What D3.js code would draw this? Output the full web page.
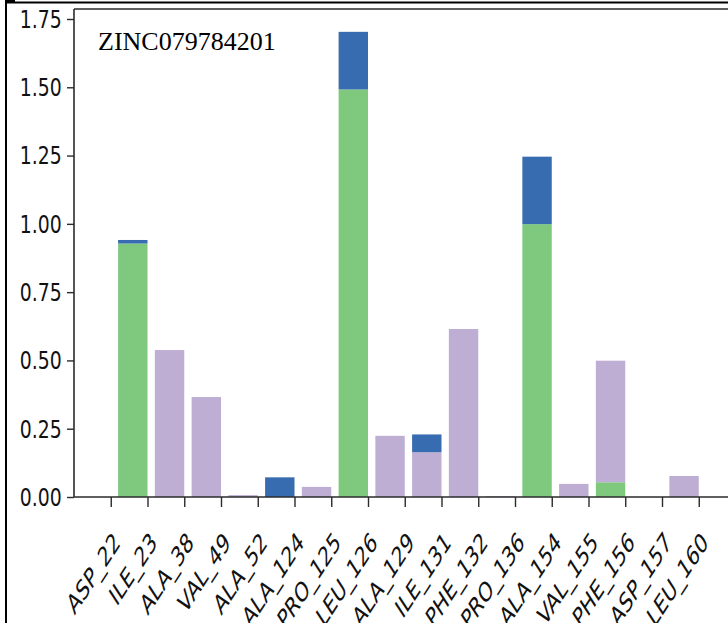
<!DOCTYPE html>
<html>
<head>
<meta charset="utf-8">
<script src="https://cdn.jsdelivr.net/npm/d3@7"></script>
<style>
  html, body { margin: 0; padding: 0; background: #fff; }
  svg { display: block; }
</style>
</head>
<body>
<svg id="chart" width="728" height="623"></svg>
<script>
// Residue labels along the x axis
const categories = ["ASP_22", "ILE_23", "ALA_38", "VAL_49", "ALA_52", "ALA_124", "PRO_125",
  "LEU_126", "ALA_129", "ILE_131", "PHE_132", "PRO_136", "ALA_154", "VAL_155",
  "PHE_156", "ASP_157", "LEU_160"];

// Stacked contributions per residue (bottom to top: green, purple, blue)
const seriesGreen  = [0, 0.928, 0, 0, 0, 0, 0, 1.492, 0, 0, 0, 0, 0.999, 0, 0.054, 0, 0];
const seriesPurple = [0, 0, 0.538, 0.366, 0.007, 0, 0.037, 0, 0.224, 0.164, 0.615, 0.003, 0, 0.048, 0.445, 0, 0.077];
const seriesBlue   = [0, 0.013, 0, 0, 0, 0.072, 0, 0.211, 0, 0.065, 0, 0, 0.247, 0, 0, 0, 0];

const yTicks = [0, 0.25, 0.5, 0.75, 1.0, 1.25, 1.5, 1.75];
const titleText = "ZINC079784201";

const seriesKeys = ["green", "purple", "blue"];
const seriesColors = { green: "#7fc97f", purple: "#beaed4", blue: "#386cb0" };

const rows = categories.map((c, i) => ({
  idx: i, name: c,
  green: seriesGreen[i], purple: seriesPurple[i], blue: seriesBlue[i]
}));

const svg = d3.select("#chart");

const plotLeft = 74, plotTop = 9, plotBottom = 497;

const x = d3.scaleLinear().domain([-1, 17]).range([plotLeft, 735.5]);
const y = d3.scaleLinear().domain([0, 1.75]).range([plotBottom, 19]);

// outer page rules
svg.append("rect").attr("x", 5).attr("y", 1.5).attr("width", 723).attr("height", 2).attr("fill", "#000");
svg.append("rect").attr("x", 5).attr("y", 0).attr("width", 10).attr("height", 2).attr("fill", "#000");
svg.append("rect").attr("x", 5).attr("y", 1.5).attr("width", 2).attr("height", 622).attr("fill", "#000");

// stacked bars
const stacked = d3.stack().keys(seriesKeys)(rows);
const barW = 0.8;

svg.append("g")
  .selectAll("g")
  .data(stacked)
  .join("g")
    .attr("fill", d => seriesColors[d.key])
  .selectAll("rect")
  .data(d => d.filter(s => s[1] - s[0] > 0))
  .join("rect")
    .attr("x", s => x(s.data.idx - barW))
    .attr("width", s => x(s.data.idx) - x(s.data.idx - barW))
    .attr("y", s => y(s[1]))
    .attr("height", s => y(s[0]) - y(s[1]));

// frame
const spine = svg.append("g").attr("stroke", "#2b2b2b").attr("stroke-width", 1.6).attr("fill", "none");
spine.append("line").attr("x1", plotLeft).attr("x2", plotLeft).attr("y1", plotTop).attr("y2", plotBottom);
spine.append("line").attr("x1", plotLeft).attr("x2", 728).attr("y1", plotTop).attr("y2", plotTop);
spine.append("line").attr("x1", plotLeft).attr("x2", 728).attr("y1", plotBottom).attr("y2", plotBottom);

// y axis
const yAxis = svg.append("g")
  .attr("transform", `translate(${plotLeft},0)`)
  .call(d3.axisLeft(y).tickValues(yTicks).tickFormat(d3.format(".2f")).tickSize(7).tickSizeOuter(0));
yAxis.select(".domain").remove();
yAxis.selectAll(".tick line").attr("stroke", "#2b2b2b").attr("stroke-width", 1.4);
yAxis.selectAll(".tick text")
  .attr("x", 0).attr("dy", "0.33em")
  .attr("transform", "translate(-12.3,0) scale(0.74,1)")
  .attr("fill", "#111")
  .style("font-family", "'DejaVu Sans', sans-serif")
  .style("font-size", "25.5px");

// x axis
const xAxis = svg.append("g")
  .attr("transform", `translate(0,${plotBottom})`)
  .call(d3.axisBottom(x).tickValues(d3.range(categories.length)).tickFormat(i => categories[i]).tickSize(10).tickSizeOuter(0));
xAxis.select(".domain").remove();
xAxis.selectAll(".tick line").attr("stroke", "#2b2b2b").attr("stroke-width", 1.4);
xAxis.selectAll(".tick text")
  .attr("x", 0).attr("y", 0).attr("dy", 0)
  .attr("text-anchor", "end")
  .attr("transform", "translate(10,47) scale(0.65,1) rotate(-45)")
  .attr("fill", "#111")
  .style("font-family", "'DejaVu Sans', sans-serif")
  .style("font-size", "27.5px");

// compound label
svg.append("text")
  .attr("x", 98).attr("y", 50)
  .attr("fill", "#000")
  .style("font-family", "'Liberation Serif', 'Times New Roman', serif")
  .style("font-size", "26px")
  .text(titleText);
</script>
</body>
</html>
